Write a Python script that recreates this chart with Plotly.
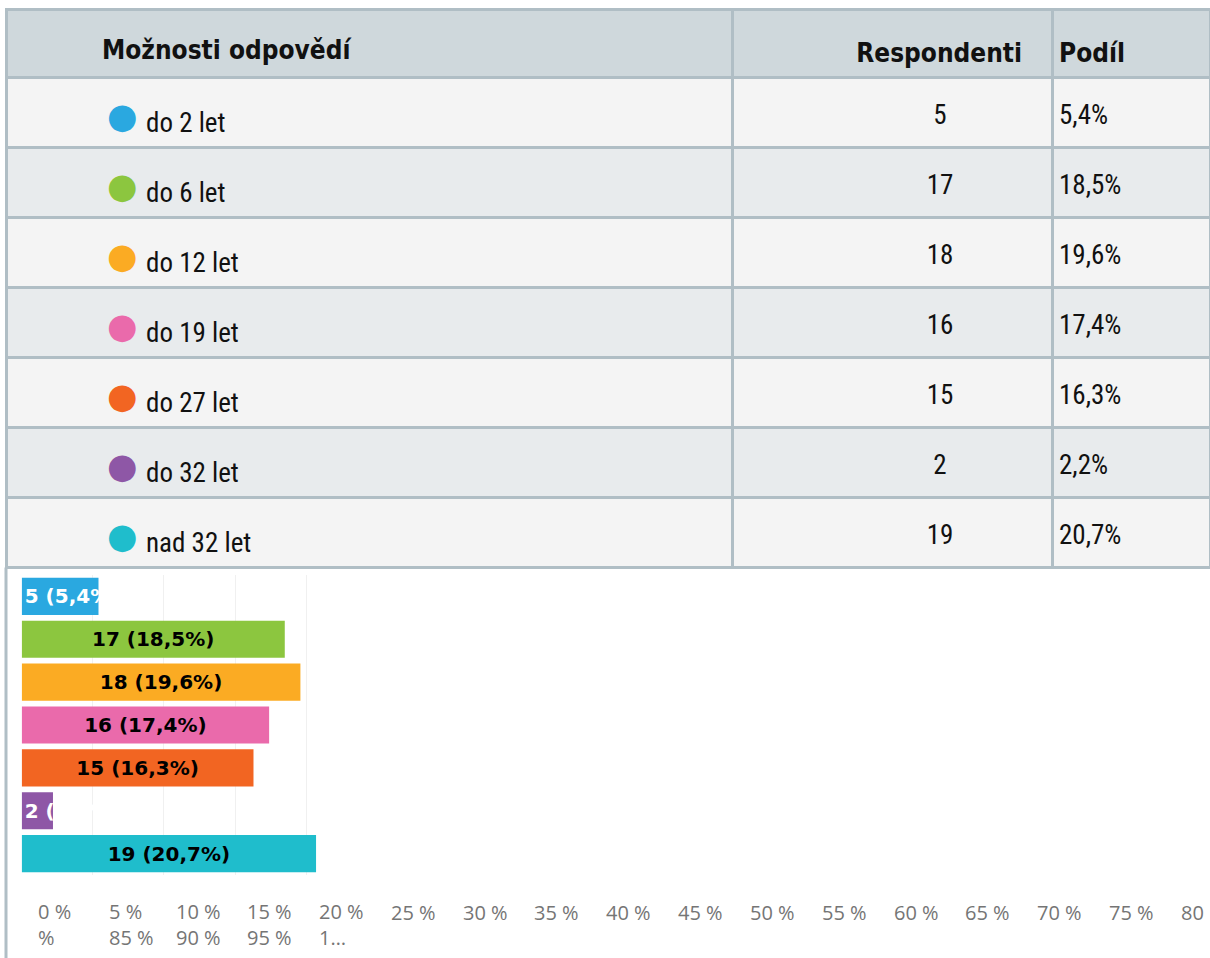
import plotly.graph_objects as go

# ---------------- data ----------------
categories = ["do 2 let", "do 6 let", "do 12 let", "do 19 let", "do 27 let", "do 32 let", "nad 32 let"]
respondents = [5, 17, 18, 16, 15, 2, 19]
shares = [5.4, 18.5, 19.6, 17.4, 16.3, 2.2, 20.7]
colors = ["#2aa8e0", "#8cc63f", "#fbab23", "#ea6aab", "#f26522", "#8e57a6", "#1fbdcc"]
header_labels = ["Možnosti odpovědí", "Respondenti", "Podíl"]
axis_labels_line1 = ["0 %", "5 %", "10 %", "15 %", "20 %", "25 %", "30 %", "35 %", "40 %",
                     "45 %", "50 %", "55 %", "60 %", "65 %", "70 %", "75 %", "80"]
axis_labels_line2 = ["%", "85 %", "90 %", "95 %", "1…"]
grid_ticks = [0, 5, 10, 15, 20]

W, H = 1210, 958


def px_x(x):
    return x / W


def px_y(y):
    return 1 - y / H


def pct(v):
    return f"{v:.1f}".replace(".", ",") + "%"


fig = go.Figure()

# ---------------- table: background grid ----------------
TBL_LEFT = 6
TBL_TOP = 9.5
HDR_H = 68
ROW_H = 70
n = len(categories)
tbl_bottom = TBL_TOP + HDR_H + ROW_H * n
LINE = dict(color="#b0bec5", width=3)
NOLINE = dict(color="rgba(0,0,0,0)", width=0)
CLEAR = "rgba(0,0,0,0)"
row_fill = ["#f4f4f4" if i % 2 == 0 else "#e8ebed" for i in range(n)]

fig.add_trace(go.Table(
    domain=dict(x=[px_x(TBL_LEFT), 1], y=[px_y(tbl_bottom + 6), px_y(TBL_TOP)]),
    columnwidth=[726, 320, 158],
    header=dict(values=["", "", ""], fill_color="#cfd8dc", line=LINE, height=HDR_H),
    cells=dict(values=[[""] * n] * 3, fill_color=[row_fill] * 3, line=LINE, height=ROW_H),
))

BODY_FONT = "Liberation Sans Narrow, Noto Sans Condensed, Roboto Condensed, DejaVu Sans Condensed, sans-serif"
HEAD_FONT = "DejaVu Sans Condensed, DejaVu Sans, sans-serif"
head_font = dict(family=HEAD_FONT, size=26, color="#111111")
body_font = dict(family=BODY_FONT, size=27, color="#111111")


def text_table(x0, x1, widths, head_vals, head_align, cell_vals, cell_align, cfont, hs, cs):
    """Transparent table carrying only text, vertically nudged by hs (header) / cs (cells)."""
    return go.Table(
        domain=dict(x=[px_x(x0), px_x(x1)], y=[px_y(tbl_bottom + 45), px_y(TBL_TOP + hs)]),
        columnwidth=widths,
        header=dict(values=head_vals, align=head_align, font=head_font,
                    fill_color=CLEAR, line=NOLINE, height=HDR_H + (cs - hs)),
        cells=dict(values=cell_vals, align=cell_align, font=cfont,
                   fill_color=CLEAR, line=NOLINE, height=ROW_H),
    )


# header of first column
fig.add_trace(text_table(94, 850, [1], [f"<b>{header_labels[0]}</b>"], "left",
                         [[""] * n], "left", body_font, 17.5, 17.5))
# coloured dots
fig.add_trace(text_table(99, 140, [1], [""], "left",
                         [["●"] * n], "left",
                         dict(family="DejaVu Sans", size=35, color=[colors]), 0, 16))
# answer labels
fig.add_trace(text_table(138, 850, [1], [""], "left",
                         [categories], "left", body_font, 0, 26.5))
# numeric columns
fig.add_trace(text_table(850, W, [180, 21, 159],
                         [f"<b>{header_labels[1]}</b>", "", f"<b>{header_labels[2]}</b>"],
                         ["right", "left", "left"],
                         [[str(r) for r in respondents], [""] * n, [pct(s) for s in shares]],
                         ["center", "left", "left"], body_font, 20, 18.5))

# ---------------- bar chart ----------------
labels = [f"{r} ({pct(s)})" for r, s in zip(respondents, shares)]
fits = [s >= 10 for s in shares]

fig.add_trace(go.Bar(
    y=categories, x=[s if f else None for s, f in zip(shares, fits)],
    orientation="h", marker=dict(color=colors, line=dict(width=0)),
    text=[t if f else "" for t, f in zip(labels, fits)],
    textposition="inside", insidetextanchor="middle", textangle=0,
    constraintext="none",
    textfont=dict(family="DejaVu Sans", size=20, color="#000000", weight="bold"),
    xaxis="x", yaxis="y", showlegend=False, hoverinfo="skip",
))
fig.add_trace(go.Bar(
    y=categories, x=[s if not f else None for s, f in zip(shares, fits)],
    orientation="h", marker=dict(color=colors, line=dict(width=0)),
    text=[t if not f else "" for t, f in zip(labels, fits)],
    textposition="inside", insidetextanchor="start", textangle=0,
    constraintext="none",
    textfont=dict(family="DejaVu Sans", size=20, color="#ffffff", weight="bold"),
    xaxis="x", yaxis="y", showlegend=False, hoverinfo="skip",
))

X0 = 21.7
PX_PER_PCT = 14.22

# ---------------- axis labels (wrapped row under chart) ----------------
SLOT0 = 52.5      # centre of first label slot, px
SLOT = 71.8       # slot pitch, px
CHAR_W = 11.3     # approx. advance per label character, px
tick_font = dict(family="Open Sans, DejaVu Sans, sans-serif", size=20, color="#757575")
annotations = []
for i, t in enumerate(axis_labels_line1):
    left = SLOT0 + SLOT * i - len(t if i < len(axis_labels_line1) - 1 else t + " %") * CHAR_W / 2
    if i < len(axis_labels_line2):
        txt = t + "<br>" + axis_labels_line2[i]
        y = px_y(924)
    else:
        txt = t
        y = px_y(912)
    annotations.append(dict(
        text=txt, xref="paper", yref="paper", x=px_x(left), y=y,
        xanchor="left", yanchor="middle", align="left", showarrow=False,
        font=tick_font,
    ))

fig.update_layout(
    width=W, height=H,
    margin=dict(l=0, r=0, t=0, b=0, pad=0),
    paper_bgcolor="#ffffff", plot_bgcolor="#ffffff",
    barmode="overlay", bargap=0.133,
    showlegend=False,
    xaxis=dict(domain=[px_x(X0), 1], range=[0, (W - X0) / PX_PER_PCT],
               tickvals=grid_ticks, showticklabels=False, showgrid=True,
               gridcolor="#f0f0f0", gridwidth=1, zeroline=False, ticks="",
               showline=False, fixedrange=True),
    yaxis=dict(domain=[px_y(875), px_y(575)], categoryorder="array",
               categoryarray=categories, autorange="reversed",
               showticklabels=False, showgrid=False, zeroline=False, ticks="",
               showline=False, fixedrange=True),
    annotations=annotations,
    shapes=[dict(type="line", xref="paper", yref="paper",
                 x0=px_x(TBL_LEFT), x1=px_x(TBL_LEFT), y0=0, y1=px_y(tbl_bottom),
                 line=dict(color="#b0bec5", width=3))],
)

fig.write_html("out.html", config=dict(displayModeBar=False),
               post_script="document.body.style.margin='0';document.body.style.overflow='hidden';")
